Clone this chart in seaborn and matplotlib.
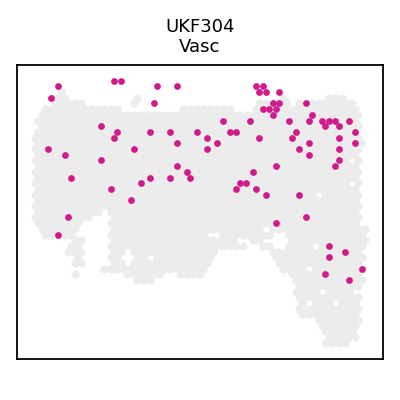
import numpy as np
import pandas as pd
import matplotlib
matplotlib.use("Agg")
import matplotlib.pyplot as plt
import seaborn as sns

# --- Input ---
sample = "UKF304"
label = "Vasc"

# tissue spots: for each array row, (first col, last col) ranges covered by tissue
tissue_rows = [
    [(7, 8)],
    [(5, 9), (31, 32), (74, 75), (88, 94)],
    [(6, 8), (10, 15), (30, 31), (68, 76), (80, 96)],
    [(3, 25), (44, 59), (67, 78), (79, 97)],
    [(1, 98)],
    [(1, 98)],
    [(1, 98)],
    [(0, 98)],
    [(0, 98)],
    [(0, 99)],
    [(0, 98)],
    [(0, 98)],
    [(0, 98)],
    [(0, 98)],
    [(0, 98)],
    [(0, 98)],
    [(0, 98)],
    [(0, 98)],
    [(0, 98)],
    [(0, 98)],
    [(0, 98)],
    [(1, 20), (23, 98)],
    [(0, 16), (23, 98)],
    [(1, 14), (23, 98)],
    [(1, 13), (23, 69), (72, 100)],
    [(2, 12), (23, 68), (69, 71), (76, 100)],
    [(11, 14), (23, 61), (65, 69), (77, 100)],
    [(10, 14), (23, 55), (57, 64), (69, 72), (77, 99)],
    [(10, 14), (23, 26), (30, 54), (71, 99)],
    [(12, 14), (23, 26), (30, 54), (72, 99)],
    [(12, 14), (23, 26), (29, 53), (74, 99)],
    [(20, 21), (23, 52), (75, 99)],
    [(11, 12), (27, 38), (43, 50), (77, 99)],
    [(30, 36), (78, 99)],
    [(79, 99)],
    [(79, 98)],
    [(80, 98)],
    [(80, 98)],
    [(80, 98)],
    [(81, 98)],
    [(85, 98)],
    [(87, 98)],
    [(88, 97)],
    [(88, 97)],
    [(88, 95)],
]
# empty spots inside the tissue (col, row)
holes = [(96, 16), (86, 18), (96, 12), (85, 27), (83, 31), (87, 35), (91, 37),
         (97, 35), (83, 37), (53, 25), (55, 25), (35, 29)]

# highlighted spots (Vasc)
vasc_col = [7, 5, 24, 26, 37, 43, 36,
            20, 25, 24, 4, 9, 20, 30, 11, 23, 29, 10, 7,
            35, 41, 43, 49, 43, 46, 47, 41, 35, 32,
            52, 52, 55, 57, 59, 61, 65, 68, 66, 62, 64, 61, 67, 70, 80,
            67, 69, 68, 70, 74, 69, 71, 72, 73, 74, 72,
            82, 84, 83, 87, 89, 88, 91, 95, 92, 97, 97, 92, 92, 77, 79, 78,
            83, 80, 83, 92, 91, 73,
            82, 73, 89, 89, 94, 99, 88, 95]
vasc_row = [-1, 1, -2, -2, -1, -1, 2,
            6, 7, 8, 10, 11, 12, 10, 15, 17, 19, 22, 25,
            7, 7, 9, 7, 13, 14, 15, 15, 15, 16,
            8, 10, 9, 5, 7, 7, 5, 8, 14, 16, 16, 17, 17, 18, 18,
            -1, -1, 0, 0, 0, 3, 3, 2, 3, 2, 4,
            2, 4, 5, 5, 5, 6, 5, 5, 6, 7, 9, 8, 10, 5, 7, 8,
            9, 10, 11, 12, 13, 13,
            22, 23, 27, 29, 28, 31, 32, 33]

# --- Build spot table ---
spots = []
for r, segs in enumerate(tissue_rows):
    for lo, hi in segs:
        for c in range(lo, hi + 1):
            if (c - r) % 2 == 0 and (c, r) not in holes:
                spots.append((c, r))
tissue = pd.DataFrame(spots, columns=["col", "row"])
vasc = pd.DataFrame({"col": vasc_col, "row": vasc_row})

# --- Plot ---
sns.set_style("white")
fig = plt.figure(figsize=(4, 4), dpi=100)
ax = fig.add_axes([0.0425, 0.1025, 0.915, 0.735])

sns.scatterplot(data=tissue, x="col", y="row", color="#ececec", s=34,
                linewidth=0, ax=ax, legend=False)
sns.scatterplot(data=vasc, x="col", y="row", color="#d01c8b", s=24,
                linewidth=0, ax=ax, legend=False)

ax.set_xlim(-5.45, 105.45)
ax.set_ylim(46.84, -4.74)
ax.set_xticks([])
ax.set_yticks([])
ax.set_xlabel("")
ax.set_ylabel("")
for sp in ax.spines.values():
    sp.set_visible(True)
    sp.set_color("black")
    sp.set_linewidth(1.3)
ax.set_title(f"{sample}\n{label}", fontsize=13, pad=9, color="black")

fig.savefig("out.png", dpi=100)
